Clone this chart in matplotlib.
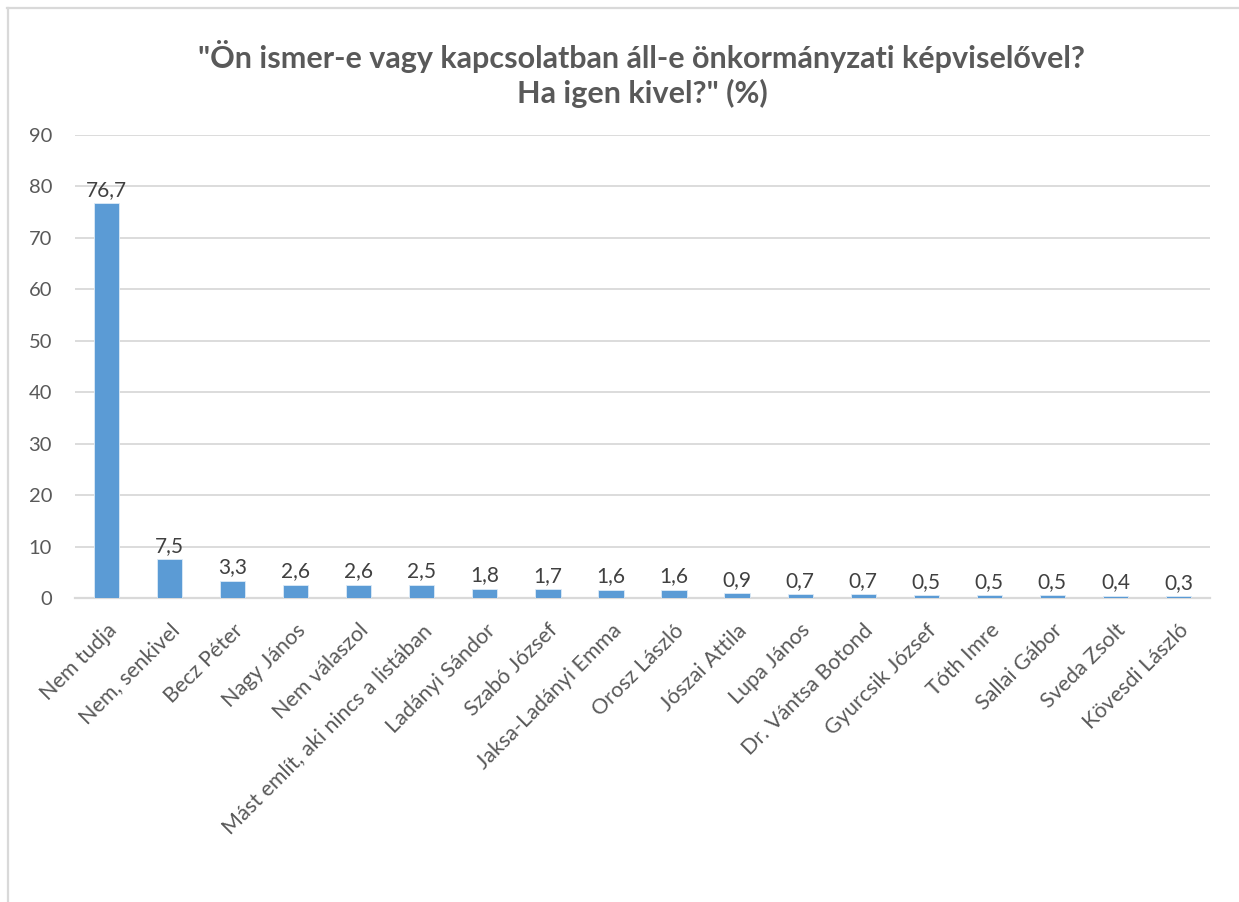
import matplotlib
matplotlib.use("Agg")
import matplotlib.pyplot as plt
from matplotlib.lines import Line2D

categories = [
    "Nem tudja", "Nem, senkivel", "Becz Péter", "Nagy János", "Nem válaszol",
    "Mást említ, aki nincs a listában", "Ladányi Sándor", "Szabó József",
    "Jaksa-Ladányi Emma", "Orosz László", "Jószai Attila", "Lupa János",
    "Dr. Vántsa Botond", "Gyurcsik József", "Tóth Imre", "Sallai Gábor",
    "Sveda Zsolt", "Kövesdi László",
]
values = [76.7, 7.5, 3.3, 2.6, 2.6, 2.5, 1.8, 1.7, 1.6, 1.6, 0.9, 0.7, 0.7,
          0.5, 0.5, 0.5, 0.4, 0.3]
y_ticks = [0, 10, 20, 30, 40, 50, 60, 70, 80, 90]
title = '"Ön ismer-e vagy kapcsolatban áll-e önkormányzati képviselővel?\nHa igen kivel?" (%)'

plt.rcParams["font.family"] = ["Lato", "DejaVu Sans"]

W, H = 1239, 902
fig = plt.figure(figsize=(W / 100, H / 100), dpi=100)
fig.patch.set_facecolor("white")

ax = fig.add_axes([75 / W, 1 - 598 / H, (1210 - 75) / W, (598 - 135) / H])

x = list(range(len(categories)))
ax.bar(x, values, width=0.4, color="#5B9BD5", edgecolor="#DDEBF7",
       linewidth=0.6, zorder=3)

for xi, v in zip(x, values):
    ax.annotate(f"{v:.1f}".replace(".", ","), (xi, v), xytext=(0, 5.5),
                textcoords="offset points", ha="center", va="baseline",
                fontsize=15, color="#404040", zorder=4)

ax.set_xlim(-0.5, len(categories) - 0.5)
ax.set_ylim(0, 90)
ax.set_yticks(y_ticks)
ax.set_yticklabels([str(t) for t in y_ticks], fontsize=14.5, color="#595959")
ax.grid(axis="y", color="#D9D9D9", linewidth=1.3, zorder=0)
ax.set_axisbelow(True)
for s in ["top", "right", "left"]:
    ax.spines[s].set_visible(False)
ax.spines["bottom"].set_color("#D9D9D9")
ax.spines["bottom"].set_linewidth(1.6)
ax.tick_params(axis="both", length=0)
ax.tick_params(axis="y", pad=16.5)

ax.set_xticks(x)
ax.set_xticklabels(categories, rotation=45, ha="right", va="top",
                   rotation_mode="anchor", fontsize=15.5, color="#595959")
ax.tick_params(axis="x", pad=16)

line1, line2 = title.split("\n")
fig.text(642 / W, 1 - 68 / H, line1, ha="center", va="baseline",
         fontsize=22, fontweight="bold", color="#595959")
fig.text(642 / W, 1 - 103 / H, line2, ha="center", va="baseline",
         fontsize=22, fontweight="bold", color="#595959")

# outer chart frame (top and left edges)
fig.add_artist(Line2D([7 / W, 1], [1 - 8 / H, 1 - 8 / H], color="#D9D9D9",
                      linewidth=1.6, transform=fig.transFigure))
fig.add_artist(Line2D([8 / W, 8 / W], [0, 1 - 8 / H], color="#D9D9D9",
                      linewidth=1.6, transform=fig.transFigure))

fig.savefig("out.png", dpi=100, facecolor="white")
